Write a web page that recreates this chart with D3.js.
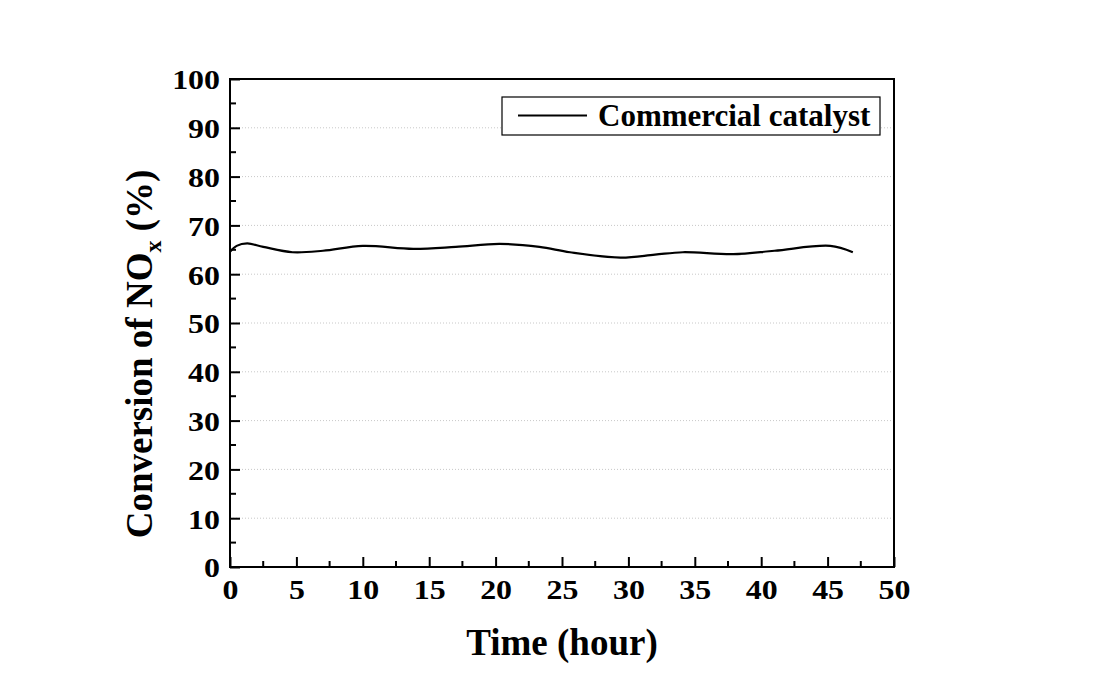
<!DOCTYPE html>
<html><head><meta charset="utf-8">
<script src="https://cdn.jsdelivr.net/npm/d3@7"></script>
<style>body{margin:0;background:#fff;} text{font-family:"Liberation Serif","Times New Roman",serif;font-weight:bold;fill:#000;}</style>
</head><body>
<svg id="chart" width="1108" height="677"></svg>
<script>
const times = [0, 0.5, 1.3, 2.5, 4.7, 7, 10, 13.8, 17, 20.3, 23.3, 25.6, 29.4, 32, 34.1, 37.9, 41, 45.2, 46.9];
const conversion = [64.6, 65.8, 66.3, 65.6, 64.5, 64.8, 65.8, 65.2, 65.6, 66.2, 65.6, 64.5, 63.4, 64.0, 64.5, 64.1, 64.8, 65.8, 64.5];
const xTicks = [0,5,10,15,20,25,30,35,40,45,50];
const yTicks = [0,10,20,30,40,50,60,70,80,90,100];
const seriesName = "Commercial catalyst";

const svg = d3.select("#chart");
const L=230, R=894, T=79, B=567;
const x = d3.scaleLinear().domain([0,50]).range([L,R]);
const y = d3.scaleLinear().domain([0,100]).range([B,T]);

// grid
svg.append("g").selectAll("line").data(yTicks.filter(v=>v>0&&v<100)).join("line")
  .attr("x1",L).attr("x2",R).attr("y1",d=>y(d)).attr("y2",d=>y(d))
  .attr("stroke","#c8c8c8").attr("stroke-width",1).attr("stroke-dasharray","1,2");

// minor ticks
const minorX = d3.range(2.5,50,5);
const minorY = d3.range(5,100,10);
svg.append("g").selectAll("line").data(minorX).join("line")
  .attr("x1",d=>x(d)).attr("x2",d=>x(d)).attr("y1",B).attr("y2",B-6).attr("stroke","#000").attr("stroke-width",2);
svg.append("g").selectAll("line").data(minorY).join("line")
  .attr("y1",d=>y(d)).attr("y2",d=>y(d)).attr("x1",L).attr("x2",L+6).attr("stroke","#000").attr("stroke-width",2);

// axes
const xAxis = svg.append("g").attr("transform",`translate(0,${B})`)
  .call(d3.axisBottom(x).tickValues(xTicks).tickSizeInner(-10).tickSizeOuter(0).tickPadding(22));
const yAxis = svg.append("g").attr("transform",`translate(${L},0)`)
  .call(d3.axisLeft(y).tickValues(yTicks).tickSizeInner(-10).tickSizeOuter(0).tickPadding(10));
[xAxis,yAxis].forEach(a=>{
  a.select(".domain").remove();
  a.selectAll(".tick line").attr("stroke","#000").attr("stroke-width",2);
  a.selectAll(".tick text").style("font-size","28px").style("font-family","Liberation Serif").style("font-weight","bold").attr("fill","#000")
   .each(function(){ const w=this.getComputedTextLength(); d3.select(this).attr("textLength",w*1.14).attr("lengthAdjust","spacingAndGlyphs"); });
});
yAxis.selectAll(".tick text").attr("dy","0.35em");
xAxis.selectAll(".tick text").attr("dy","0.71em").attr("y",12);
// frame
svg.append("rect").attr("x",L).attr("y",T).attr("width",R-L).attr("height",B-T)
  .attr("fill","none").attr("stroke","#000").attr("stroke-width",2);

// line
const line = d3.line().x((d,i)=>x(times[i])).y(d=>y(d)).curve(d3.curveCatmullRom.alpha(0.5));
svg.append("path").datum(conversion).attr("d",line).attr("fill","none").attr("stroke","#000").attr("stroke-width",2.2);

// legend
svg.append("rect").attr("x",502).attr("y",97).attr("width",378).attr("height",38)
  .attr("fill","#fff").attr("stroke","#000").attr("stroke-width",1.2);
svg.append("line").attr("x1",518).attr("x2",587).attr("y1",115.5).attr("y2",115.5).attr("stroke","#000").attr("stroke-width",2);
svg.append("text").attr("x",598).attr("y",126).style("font-size","31px").text(seriesName);

// axis titles
svg.append("text").attr("x",(L+R)/2).attr("y",655).attr("text-anchor","middle").style("font-size","37px").text("Time (hour)");
const yl = svg.append("text").attr("transform",`translate(152,354) rotate(-90)`).attr("text-anchor","middle").style("font-size","37px");
yl.append("tspan").text("Conversion of NO");
yl.append("tspan").attr("dy",9).style("font-size","24px").text("x");
yl.append("tspan").attr("dy",-9).text(" (%)");
</script>
</body></html>
